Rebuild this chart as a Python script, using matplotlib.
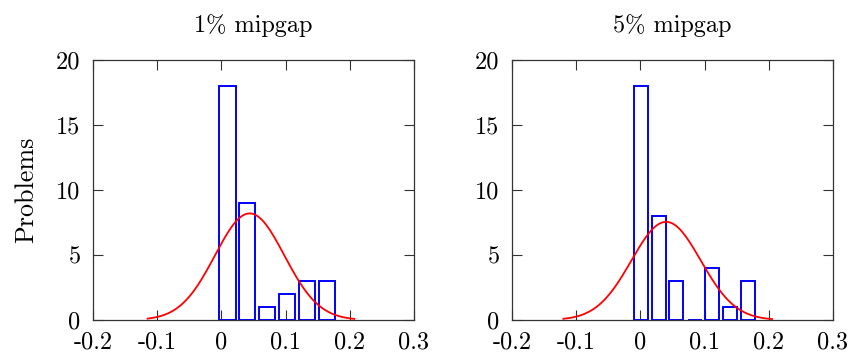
import numpy as np
import matplotlib
matplotlib.use('Agg')
import matplotlib.pyplot as plt

plt.rcParams['font.family'] = ['cmr10', 'DejaVu Serif']
plt.rcParams['axes.formatter.use_mathtext'] = True
plt.rcParams['font.size'] = 17.5

# histogram data
titles = ['1% mipgap', '5% mipgap']
centers_1 = [0.0095, 0.0405, 0.0715, 0.102, 0.133, 0.164]
counts_1 = [18, 9, 1, 2, 3, 3]
width_1 = 0.025
centers_5 = [0.0005, 0.0285, 0.056, 0.0845, 0.112, 0.140, 0.1675]
counts_5 = [18, 8, 3, 0, 4, 1, 3]
width_5 = 0.022

# fitted normal curves (mean, sd, peak height, x range)
fit_1 = (0.044, 0.054, 8.2, -0.115, 0.207)
fit_5 = (0.040, 0.054, 7.55, -0.120, 0.205)

xticks = [-0.2, -0.1, 0, 0.1, 0.2, 0.3]
xticklabels = ['-0.2', '-0.1', '0', '0.1', '0.2', '0.3']
yticks = [0, 5, 10, 15, 20]

fig = plt.figure(figsize=(8.54, 3.58), dpi=100)
ax1 = fig.add_axes([93/854, 38/358, 321/854, 260/358])
ax2 = fig.add_axes([512/854, 38/358, 321/854, 260/358])

sets = [(ax1, centers_1, counts_1, width_1, fit_1),
        (ax2, centers_5, counts_5, width_5, fit_5)]

for i, (ax, c, n, w, fit) in enumerate(sets):
    ax.bar(c, n, width=w, fill=False, edgecolor='blue', linewidth=1.4, zorder=2)
    mu, sd, pk, x0, x1 = fit
    xs = np.linspace(x0, x1, 200)
    ax.plot(xs, pk*np.exp(-0.5*((xs-mu)/sd)**2), color='red', lw=1.3, zorder=3)
    ax.set_xlim(-0.2, 0.3)
    ax.set_ylim(0, 20)
    ax.set_xticks(xticks)
    ax.set_xticklabels(xticklabels)
    ax.set_yticks(yticks)
    ax.set_yticklabels([str(v) for v in yticks])
    ax.tick_params(direction='in', top=True, right=True, length=7, width=0.8,
                   color='#333333')
    ax.tick_params(axis='y', pad=9)
    ax.tick_params(axis='x', pad=8)
    for s in ax.spines.values():
        s.set_linewidth(0.9)
        s.set_color('#333333')
    ax.set_title(titles[i], pad=20, fontsize=17.5)

ax1.set_ylabel('Problems', labelpad=13, fontsize=18.8)

plt.savefig('out.png', dpi=100)
